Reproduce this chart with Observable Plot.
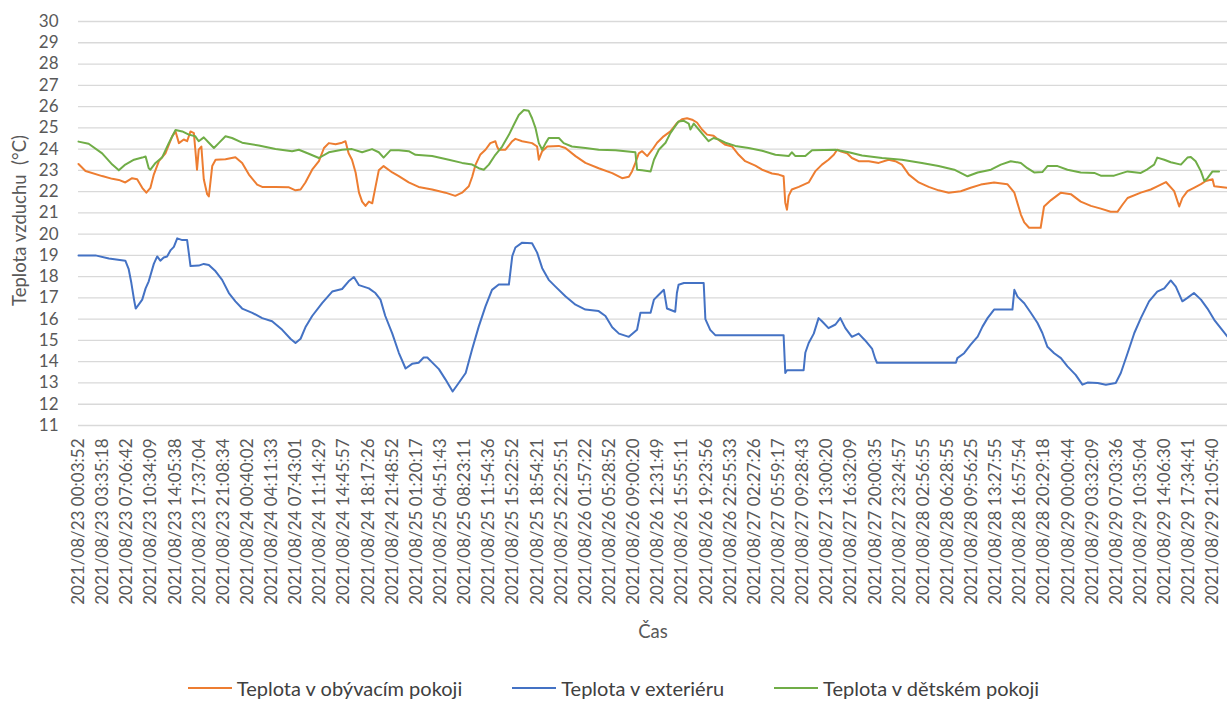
<!DOCTYPE html>
<html>
<head>
<meta charset="utf-8">
<script src="https://cdn.jsdelivr.net/npm/d3@7"></script>
<script src="https://cdn.jsdelivr.net/npm/@observablehq/plot@0.6"></script>
<style>
  body { margin: 0; background: #fff; font-family: Lato, "Open Sans", sans-serif; }
  #legend { display: flex; justify-content: center; align-items: center; gap: 50px; margin-top: 6px; height: 24px; color: #404040; font-size: 20px; }
  #legend .item { display: flex; align-items: center; }
  #legend .swatch { width: 44px; height: 2px; margin-right: 5px; }
</style>
</head>
<body>
<div id="chart"></div>
<div id="legend"></div>
<script>
// Category labels of the time axis (one every ~3.5 h of measurements)
const tickLabels = [
  "2021/08/23 00:03:52", "2021/08/23 03:35:18", "2021/08/23 07:06:42", "2021/08/23 10:34:09",
  "2021/08/23 14:05:38", "2021/08/23 17:37:04", "2021/08/23 21:08:34", "2021/08/24 00:40:02",
  "2021/08/24 04:11:33", "2021/08/24 07:43:01", "2021/08/24 11:14:29", "2021/08/24 14:45:57",
  "2021/08/24 18:17:26", "2021/08/24 21:48:52", "2021/08/25 01:20:17", "2021/08/25 04:51:43",
  "2021/08/25 08:23:11", "2021/08/25 11:54:36", "2021/08/25 15:22:52", "2021/08/25 18:54:21",
  "2021/08/25 22:25:51", "2021/08/26 01:57:22", "2021/08/26 05:28:52", "2021/08/26 09:00:20",
  "2021/08/26 12:31:49", "2021/08/26 15:55:11", "2021/08/26 19:23:56", "2021/08/26 22:55:33",
  "2021/08/27 02:27:26", "2021/08/27 05:59:17", "2021/08/27 09:28:43", "2021/08/27 13:00:20",
  "2021/08/27 16:32:09", "2021/08/27 20:00:35", "2021/08/27 23:24:57", "2021/08/28 02:56:55",
  "2021/08/28 06:28:55", "2021/08/28 09:56:25", "2021/08/28 13:27:55", "2021/08/28 16:57:54",
  "2021/08/28 20:29:18", "2021/08/29 00:00:44", "2021/08/29 03:32:09", "2021/08/29 07:03:36",
  "2021/08/29 10:35:04", "2021/08/29 14:06:30", "2021/08/29 17:34:41", "2021/08/29 21:05:40"
];
// Last measurement position on the category axis (in label steps)
const axisEnd = 47.60;

const yTitle = "Teplota vzduchu\u00a0 (°C)";
const xTitle = "Čas";

const seriesNames = ["Teplota v obývacím pokoji", "Teplota v exteriéru", "Teplota v dětském pokoji"];
const seriesColors = ["#ED7D31", "#4472C4", "#70AD47"];

// [position on the category axis, temperature °C]
const obyvaciPokoj = [
  [0, 23.3], [0.29, 22.97], [0.98, 22.73], [1.40, 22.6], [1.67, 22.55], [1.94, 22.43], [2.22, 22.63],
  [2.43, 22.58], [2.64, 22.18], [2.81, 21.95], [2.98, 22.18], [3.12, 22.8], [3.33, 23.43], [3.60, 23.8],
  [3.88, 24.6], [4.02, 24.83], [4.16, 24.28], [4.36, 24.45], [4.50, 24.37], [4.64, 24.83], [4.78, 24.75],
  [4.84, 23.97], [4.91, 23.03], [4.98, 23.97], [5.09, 24.12], [5.19, 22.58], [5.33, 21.88], [5.40, 21.77],
  [5.54, 23.2], [5.68, 23.5], [6.09, 23.52], [6.50, 23.62], [6.78, 23.35], [7.06, 22.8], [7.40, 22.33],
  [7.61, 22.22], [8.16, 22.22], [8.72, 22.2], [8.99, 22.06], [9.20, 22.1], [9.40, 22.43], [9.68, 23.03],
  [9.96, 23.43], [10.17, 24.05], [10.37, 24.28], [10.65, 24.23], [10.92, 24.3], [11.06, 24.37], [11.19, 23.8],
  [11.33, 23.5], [11.48, 22.9], [11.62, 21.95], [11.75, 21.53], [11.89, 21.33], [12.03, 21.53], [12.17, 21.45],
  [12.30, 22.2], [12.44, 23.0], [12.64, 23.2], [13.00, 22.9], [13.27, 22.73], [13.68, 22.43], [14.09, 22.22],
  [14.65, 22.1], [15.20, 21.95], [15.61, 21.8], [15.89, 21.95], [16.17, 22.25], [16.31, 22.7], [16.45, 23.27],
  [16.65, 23.75], [16.86, 23.97], [17.06, 24.28], [17.27, 24.37], [17.34, 24.12], [17.41, 23.97], [17.69, 23.97],
  [17.97, 24.37], [18.10, 24.48], [18.38, 24.37], [18.79, 24.28], [19.00, 24.12], [19.07, 23.5], [19.21, 23.9],
  [19.42, 24.12], [19.90, 24.15], [20.17, 24.05], [20.59, 23.67], [21.00, 23.35], [21.55, 23.1], [22.11, 22.87],
  [22.52, 22.63], [22.80, 22.7], [22.93, 22.95], [23.07, 23.35], [23.21, 23.8], [23.35, 23.9], [23.56, 23.67],
  [23.77, 23.97], [23.97, 24.3], [24.24, 24.6], [24.52, 24.83], [24.79, 25.22], [25.00, 25.4], [25.21, 25.45],
  [25.42, 25.38], [25.62, 25.25], [25.83, 24.92], [26.04, 24.68], [26.31, 24.63], [26.59, 24.37], [26.80, 24.2],
  [27.08, 24.12], [27.35, 23.73], [27.62, 23.43], [28.04, 23.22], [28.32, 23.03], [28.73, 22.85], [29.01, 22.8],
  [29.21, 22.72], [29.28, 21.47], [29.35, 21.15], [29.42, 21.8], [29.55, 22.1], [29.84, 22.22], [30.25, 22.43],
  [30.52, 22.95], [30.80, 23.27], [31.07, 23.5], [31.29, 23.73], [31.43, 23.97], [31.56, 23.9], [31.84, 23.8],
  [32.04, 23.58], [32.32, 23.43], [32.74, 23.43], [33.15, 23.35], [33.56, 23.5], [33.84, 23.43], [34.11, 23.27],
  [34.40, 22.8], [34.81, 22.43], [35.22, 22.22], [35.63, 22.06], [36.05, 21.95], [36.55, 22.02], [36.96, 22.18],
  [37.38, 22.33], [37.93, 22.43], [38.48, 22.35], [38.77, 21.95], [39.04, 20.92], [39.18, 20.55], [39.38, 20.3],
  [39.86, 20.3], [40.00, 21.3], [40.29, 21.6], [40.70, 21.95], [41.11, 21.88], [41.52, 21.53], [41.94, 21.33],
  [42.35, 21.2], [42.76, 21.05], [43.04, 21.05], [43.24, 21.37], [43.46, 21.7], [44.01, 21.95], [44.42, 22.1],
  [44.69, 22.25], [45.05, 22.45], [45.39, 22.02], [45.60, 21.3], [45.73, 21.7], [45.94, 22.02], [46.21, 22.18],
  [46.50, 22.35], [46.70, 22.5], [46.98, 22.58], [47.05, 22.25], [47.60, 22.18]
];

const exterier = [
  [0, 19.0], [0.70, 19.0], [1.26, 18.85], [1.94, 18.75], [2.08, 18.35], [2.19, 17.7], [2.30, 16.92],
  [2.37, 16.5], [2.50, 16.7], [2.64, 16.92], [2.78, 17.45], [2.91, 17.78], [3.12, 18.6], [3.26, 18.95],
  [3.39, 18.75], [3.53, 18.9], [3.67, 18.95], [3.82, 19.25], [3.95, 19.4], [4.09, 19.8], [4.30, 19.72],
  [4.50, 19.72], [4.64, 18.5], [4.98, 18.52], [5.19, 18.6], [5.40, 18.55], [5.68, 18.25], [5.95, 17.85],
  [6.23, 17.23], [6.50, 16.84], [6.78, 16.5], [7.20, 16.3], [7.61, 16.05], [8.02, 15.9], [8.44, 15.5],
  [8.78, 15.08], [8.99, 14.88], [9.20, 15.08], [9.40, 15.62], [9.68, 16.15], [10.10, 16.77], [10.51, 17.3],
  [10.92, 17.42], [11.19, 17.78], [11.41, 17.98], [11.62, 17.6], [12.03, 17.45], [12.30, 17.23], [12.51, 16.92],
  [12.71, 16.15], [13.00, 15.32], [13.27, 14.42], [13.55, 13.68], [13.82, 13.9], [14.09, 13.95], [14.30, 14.2],
  [14.45, 14.2], [14.65, 13.97], [14.93, 13.65], [15.20, 13.17], [15.50, 12.6], [15.75, 13.0], [16.04, 13.47],
  [16.31, 14.6], [16.58, 15.65], [16.86, 16.6], [17.13, 17.38], [17.41, 17.63], [17.83, 17.63], [17.97, 18.97],
  [18.10, 19.37], [18.38, 19.6], [18.79, 19.57], [19.00, 19.13], [19.21, 18.4], [19.48, 17.85], [19.76, 17.53],
  [20.17, 17.08], [20.59, 16.68], [21.00, 16.45], [21.55, 16.38], [21.83, 16.15], [22.11, 15.62], [22.39, 15.32],
  [22.80, 15.17], [23.14, 15.5], [23.28, 16.3], [23.70, 16.3], [23.84, 16.92], [24.04, 17.15], [24.25, 17.38],
  [24.38, 16.5], [24.72, 16.35], [24.79, 17.23], [24.86, 17.62], [25.08, 17.7], [25.90, 17.7], [25.97, 16.0],
  [26.17, 15.5], [26.38, 15.25], [29.21, 15.25], [29.28, 13.47], [29.35, 13.6], [30.04, 13.6], [30.11, 14.42],
  [30.25, 14.88], [30.46, 15.32], [30.66, 16.05], [30.80, 15.9], [31.07, 15.58], [31.36, 15.75], [31.56, 16.05],
  [31.77, 15.58], [32.04, 15.17], [32.32, 15.32], [32.59, 15.0], [32.88, 14.6], [33.01, 14.13], [33.08, 13.95],
  [36.35, 13.95], [36.41, 14.17], [36.69, 14.4], [36.96, 14.8], [37.25, 15.18], [37.45, 15.65], [37.66, 16.05],
  [37.93, 16.45], [38.69, 16.45], [38.77, 17.38], [38.90, 17.06], [39.18, 16.75], [39.45, 16.3], [39.73, 15.82],
  [39.93, 15.35], [40.14, 14.7], [40.42, 14.4], [40.70, 14.17], [40.97, 13.78], [41.31, 13.38], [41.59, 12.92],
  [41.80, 13.02], [42.22, 13.0], [42.56, 12.92], [42.97, 13.0], [43.18, 13.47], [43.46, 14.4], [43.74, 15.35],
  [44.01, 16.05], [44.35, 16.84], [44.69, 17.3], [44.98, 17.45], [45.25, 17.82], [45.46, 17.53], [45.73, 16.84],
  [45.94, 17.0], [46.21, 17.23], [46.50, 16.92], [46.77, 16.5], [47.05, 15.97], [47.32, 15.58], [47.60, 15.18]
];

const detskyPokoj = [
  [0, 24.35], [0.42, 24.25], [0.98, 23.8], [1.40, 23.27], [1.67, 23.0], [1.94, 23.27], [2.30, 23.5],
  [2.64, 23.6], [2.78, 23.65], [2.91, 23.1], [2.98, 23.03], [3.19, 23.35], [3.46, 23.6], [3.74, 24.28],
  [4.02, 24.9], [4.30, 24.83], [4.57, 24.68], [4.84, 24.6], [4.98, 24.37], [5.19, 24.55], [5.40, 24.3],
  [5.61, 24.05], [5.81, 24.28], [6.09, 24.6], [6.36, 24.52], [6.78, 24.3], [7.47, 24.17], [8.16, 24.0],
  [8.85, 23.9], [9.13, 23.97], [9.54, 23.78], [9.96, 23.58], [10.37, 23.85], [10.92, 23.97], [11.33, 24.0],
  [11.75, 23.85], [12.16, 24.0], [12.44, 23.85], [12.64, 23.6], [12.93, 23.95], [13.27, 23.95], [13.68, 23.9],
  [13.96, 23.73], [14.65, 23.67], [15.34, 23.5], [15.89, 23.35], [16.31, 23.27], [16.58, 23.1], [16.79, 23.03],
  [17.00, 23.27], [17.27, 23.73], [17.55, 24.12], [17.83, 24.67], [18.03, 25.13], [18.24, 25.6], [18.45, 25.84],
  [18.65, 25.8], [18.79, 25.45], [18.93, 25.0], [19.07, 24.28], [19.21, 23.97], [19.35, 24.28], [19.48, 24.52],
  [19.90, 24.52], [20.10, 24.28], [20.44, 24.12], [21.00, 24.05], [21.55, 23.97], [22.25, 23.95], [22.66, 23.9],
  [23.07, 23.85], [23.14, 23.03], [23.35, 23.0], [23.70, 22.95], [23.84, 23.5], [24.04, 23.97], [24.32, 24.3],
  [24.52, 24.75], [24.86, 25.3], [25.08, 25.33], [25.28, 25.2], [25.35, 24.92], [25.49, 25.2], [25.76, 24.83],
  [26.10, 24.37], [26.31, 24.52], [26.52, 24.45], [26.80, 24.3], [27.21, 24.15], [27.76, 24.05], [28.32, 23.92],
  [28.87, 23.73], [29.42, 23.67], [29.55, 23.85], [29.70, 23.67], [30.11, 23.67], [30.39, 23.95], [31.36, 23.97],
  [31.91, 23.85], [32.46, 23.7], [33.29, 23.58], [34.11, 23.5], [34.94, 23.35], [35.63, 23.2], [36.28, 23.03],
  [36.83, 22.72], [37.25, 22.9], [37.80, 23.03], [38.21, 23.27], [38.62, 23.43], [39.04, 23.35], [39.31, 23.1],
  [39.59, 22.9], [39.93, 22.92], [40.14, 23.2], [40.56, 23.2], [40.97, 23.03], [41.52, 22.9], [42.08, 22.88],
  [42.35, 22.75], [42.90, 22.75], [43.46, 22.95], [44.01, 22.88], [44.28, 23.05], [44.56, 23.27], [44.69, 23.6],
  [44.98, 23.5], [45.25, 23.38], [45.67, 23.27], [45.94, 23.6], [46.08, 23.63], [46.28, 23.43], [46.50, 22.95],
  [46.64, 22.5], [46.77, 22.63], [46.98, 22.95], [47.25, 22.95]
];

const yTicks = d3.range(11, 31);

const rows = [obyvaciPokoj, exterier, detskyPokoj].flatMap((s, k) =>
  s.map(([pos, temp]) => ({pos, temp, series: seriesNames[k]}))
);

const chart = Plot.plot({
  width: 1227,
  height: 670,
  marginLeft: 78,
  marginRight: 0,
  marginTop: 21,
  marginBottom: 245,
  style: {fontFamily: "Lato, sans-serif", fontSize: "17px", color: "#595959", background: "#fff"},
  x: {domain: [0, axisEnd]},
  y: {domain: [11, 30]},
  color: {domain: seriesNames, range: seriesColors},
  marks: [
    Plot.gridY(yTicks, {stroke: "#d9d9d9", strokeOpacity: 1, strokeWidth: 1.3}),
    Plot.axisY({
      ticks: yTicks, tickSize: 0, tickPadding: 20, tickFormat: d => String(d), fontSize: 17, label: null
    }),
    // rotated title of the temperature axis
    Plot.text([yTitle], {
      frameAnchor: "left", textAnchor: "middle", rotate: -90, dx: -58, dy: -3,
      fontSize: 18.5, fill: "#595959", text: d => d
    }),
    Plot.axisX({
      ticks: d3.range(tickLabels.length), tickSize: 0, tickPadding: 13, tickRotate: -90,
      tickFormat: i => tickLabels[i], label: null
    }),
    // title of the time axis
    Plot.text([xTitle], {
      frameAnchor: "bottom", dy: 212, fontSize: 18.5, fill: "#595959", text: d => d
    }),
    Plot.line(rows, {
      x: "pos", y: "temp", z: "series", stroke: "series",
      strokeWidth: 2, strokeLinejoin: "round", strokeLinecap: "round"
    })
  ]
});
document.getElementById("chart").appendChild(chart);

// Legend below the chart
const legend = d3.select("#legend");
seriesNames.forEach((name, k) => {
  const item = legend.append("div").attr("class", "item");
  item.append("div").attr("class", "swatch").style("background", seriesColors[k]);
  item.append("span").text(name);
});
</script>
</body>
</html>
